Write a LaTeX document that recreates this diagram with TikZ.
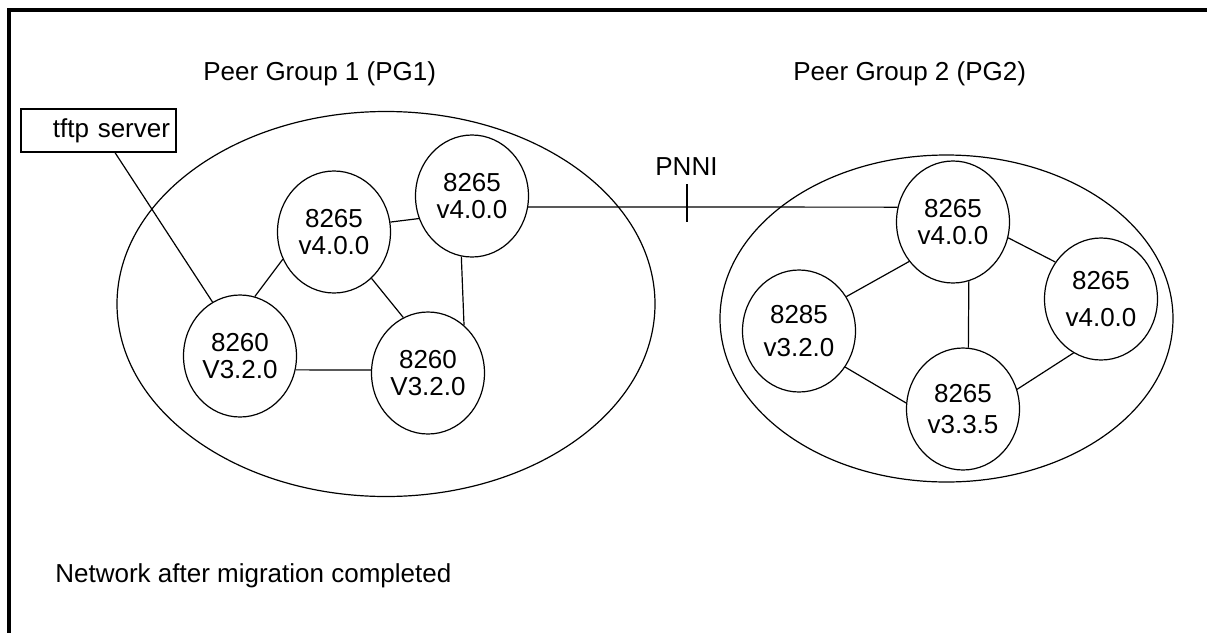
\documentclass[tikz,border=0pt]{standalone}
\usepackage{fontspec}
\setmainfont{Liberation Sans}
\usetikzlibrary{shapes.geometric}

\begin{document}
\begin{tikzpicture}[
        x=0.5pt, y=-0.5pt,
        every node/.style={font=\fontsize{13}{13.5}\selectfont},
        switch/.style={
            ellipse, line width=0.6pt, draw = black, minimum width = 56.5pt, minimum height = 61pt, inner sep = 0pt, align = center
        },
        group/.style={
            ellipse, line width=0.6pt, draw = black, inner sep = 0pt
        },
        server/.style={
            rectangle, line width=0.6pt, draw = black, minimum height = 21.5pt, text width = 71.5pt, inner sep = 3pt, align = right
        },
        caption/.style={
            anchor = base west, inner sep = 0pt
        },
        every edge/.style={draw, line width=0.6pt},
    ]
        \useasboundingbox (0,0) rectangle (1207,633);
        \draw[line width=2pt] (9,633) -- (9,10) -- (1207,10);

        \node (pg1) [group, minimum width = 269pt, minimum height = 192.5pt] at (386,304) {};
        \node (pg2) [group, minimum width = 226.5pt, minimum height = 163.5pt] at (946.5,318.5) {};
        \node (pg1Text) [caption] at (203,80) {Peer Group 1 (PG1)};
        \node (pg2Text) [caption] at (793,80) {Peer Group 2 (PG2)};
        \node (noteText) [caption] at (55,582) {Network after migration completed};

        \node (tftp) [server] at (98.5,130.5) {tftp server};

        \node (sw8260a) [switch] at (240,356) {8260\\V3.2.0};
        \node (sw8265a) [switch] at (334,232) {8265\\v4.0.0};
        \node (sw8260b) [switch] at (428,373) {8260\\V3.2.0};
        \node (sw8265b) [switch] at (472,196) {8265\\v4.0.0};

        \node (sw8265c) [switch] at (953,222) {8265\\v4.0.0};
        \node (sw8285) [switch] at (799,331) {8285\\[3pt]v3.2.0};
        \node (sw8265d) [switch] at (963,409) {8265\\[2pt]v3.3.5};
        \node (sw8265e) [switch] at (1101,299) {8265\\[5pt]v4.0.0};

        \path ([xshift=8.25pt]tftp.south) edge (sw8260a.117);
        \path (sw8260a.76) edge (sw8265a.208);
        \path (sw8265a.10) edge (sw8265b.203);
        \path (sw8265a.-51) edge (sw8260b.114);
        \path (sw8260a.-14) edge (sw8260b.177);
        \path (sw8265b.-100) edge (sw8260b.53);

        \draw[line width=0.6pt] (sw8265b.-11) -- coordinate[pos=0.43] (pnniTick) (sw8265c.165);
        \draw[line width=0.6pt] ([yshift=11.5pt]pnniTick) -- ([yshift=-7.5pt]pnniTick);
        \node (pnni) [caption] at (655,175) {PNNI};

        \path (sw8265c.222) edge (sw8285.36);
        \path (sw8265c.-75) edge (sw8265d.85);
        \path (sw8265c.-16) edge (sw8265e.141);
        \path (sw8285.-38) edge (sw8265d.174);
        \path (sw8265e.243) edge (sw8265d.20);

    \end{tikzpicture}
\end{document}
